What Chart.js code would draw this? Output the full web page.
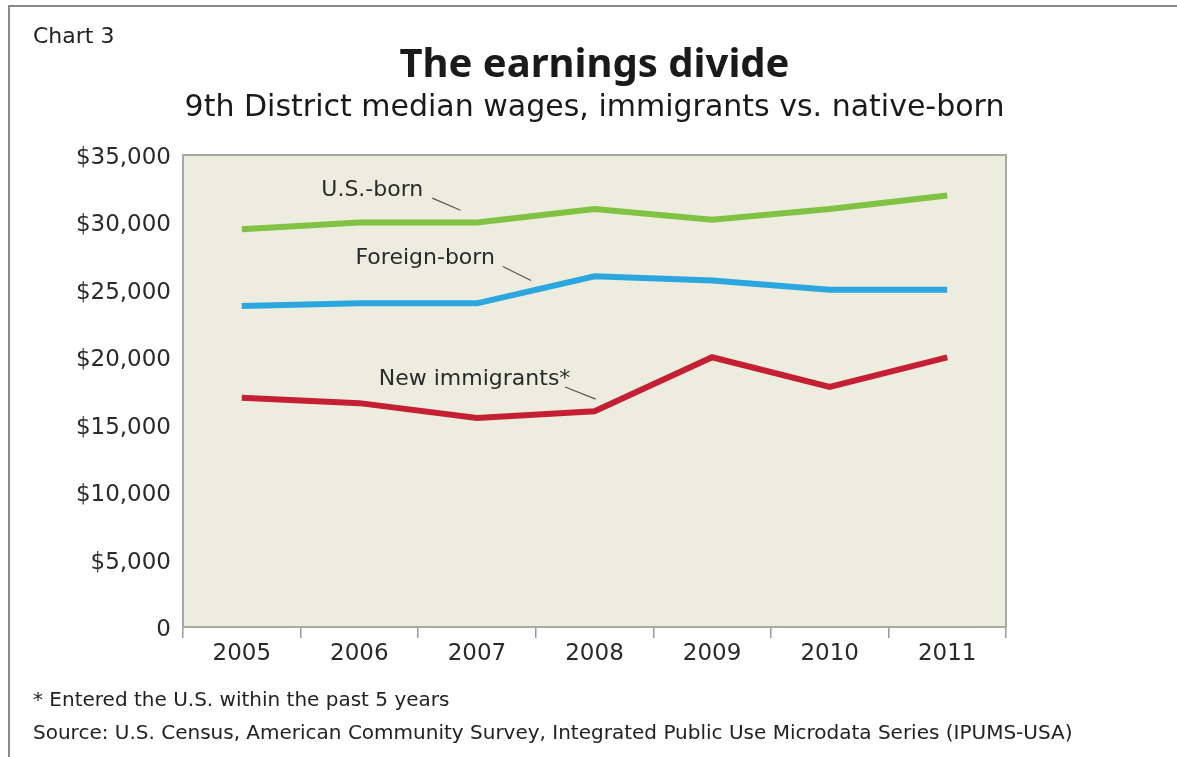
<!DOCTYPE html>
<html>
<head>
<meta charset="utf-8">
<script src="https://cdn.jsdelivr.net/npm/chart.js@4"></script>
<style>
  html, body { margin: 0; padding: 0; background: #fff; overflow: hidden; }
  #wrap { position: relative; width: 1177px; height: 757px; overflow: hidden; font-family: 'DejaVu Sans', sans-serif; color: #222; }
  #frame { position: absolute; left: 8px; top: 5px; width: 1300px; height: 900px; border-top: 2px solid #8a8a8a; border-left: 2px solid #8a8a8a; }
  #label { position: absolute; left: 33px; top: 23px; font-size: 22px; }
  .note { position: absolute; left: 33px; font-size: 20px; white-space: nowrap; }
  canvas { position: absolute; left: 0; top: 0; }
</style>
</head>
<body>
<div id="wrap">
  <div id="frame"></div>
  <canvas id="chart" width="1177" height="757"></canvas>
  <div id="label">Chart 3</div>
  <div class="note" style="top:687px">* Entered the U.S. within the past 5 years</div>
  <div class="note" style="top:720px">Source: U.S. Census, American Community Survey, Integrated Public Use Microdata Series (IPUMS-USA)</div>
</div>
<script>
const years = ['2005', '2006', '2007', '2008', '2009', '2010', '2011'];
const usBorn = [29500, 30000, 30000, 31000, 30200, 31000, 32000];
const foreignBorn = [23800, 24000, 24000, 26000, 25700, 25000, 25000];
const newImmigrants = [17000, 16600, 15500, 16000, 20000, 17800, 20000];

// series labels with leader lines, placed in data units (category index, value)
const seriesLabels = [
    { text: 'U.S.-born', at: [1.11, 32400], line: [[1.62, 31800], [1.86, 30900]] },
    { text: 'Foreign-born', at: [1.56, 27330], line: [[2.22, 26735], [2.46, 25690]] },
    { text: 'New immigrants*', at: [1.98, 18400], line: [[2.75, 17800], [3.01, 16900]] },
];

const plotBackground = {
    id: 'plotBackground',
    beforeDraw: (chart) => {
        const { ctx, chartArea: a } = chart;
        ctx.save();
        ctx.fillStyle = '#ecedde';
        ctx.fillRect(a.left, a.top, a.right - a.left, a.bottom - a.top);
        ctx.strokeStyle = '#a8a9a0';
        ctx.lineWidth = 2;
        ctx.strokeRect(a.left, a.top, a.right - a.left, a.bottom - a.top);
        ctx.restore();
    }
};

const lineLabels = {
    id: 'lineLabels',
    afterDatasetsDraw: (chart) => {
        const { ctx, scales: { x, y } } = chart;
        ctx.save();
        ctx.font = "22px 'DejaVu Sans', sans-serif";
        ctx.fillStyle = '#2a2a2a';
        ctx.textAlign = 'center';
        ctx.textBaseline = 'middle';
        ctx.strokeStyle = '#555';
        ctx.lineWidth = 1.2;
        seriesLabels.forEach((l) => {
            ctx.fillText(l.text, x.getPixelForValue(l.at[0]), y.getPixelForValue(l.at[1]));
            ctx.beginPath();
            ctx.moveTo(x.getPixelForValue(l.line[0][0]), y.getPixelForValue(l.line[0][1]));
            ctx.lineTo(x.getPixelForValue(l.line[1][0]), y.getPixelForValue(l.line[1][1]));
            ctx.stroke();
        });
        ctx.restore();
    }
};

const ctx = document.getElementById('chart').getContext('2d');

const chart = new Chart(ctx, {
    type: 'line',
    data: {
        labels: years,
        datasets: [
            { label: 'U.S.-born', data: usBorn, borderColor: '#80c241' },
            { label: 'Foreign-born', data: foreignBorn, borderColor: '#2ba6de' },
            { label: 'New immigrants*', data: newImmigrants, borderColor: '#c41f33' },
        ]
    },
    options: {
        responsive: false,
        animation: false,
        elements: {
            line: { borderWidth: 6, tension: 0, borderJoinStyle: 'miter' },
            point: { radius: 0, hoverRadius: 0 }
        },
        layout: {
            padding: { left: 0, right: 171, top: 0, bottom: 0 }
        },
        plugins: {
            legend: { display: false },
            tooltip: { enabled: false },
            title: {
                display: true,
                fullSize: false, // centre over the plot area
                text: 'The earnings divide',
                color: '#1a1a1a',
                font: { family: "'Noto Sans', sans-serif", size: 40, weight: 'bold', lineHeight: 1.2 },
                padding: { top: 42, bottom: 0 }
            },
            subtitle: {
                display: true,
                fullSize: false,
                text: '9th District median wages, immigrants vs. native-born',
                color: '#1a1a1a',
                font: { family: "'DejaVu Sans', sans-serif", size: 30, lineHeight: 1.2 },
                padding: { top: 0, bottom: 29 }
            }
        },
        scales: {
            x: {
                offset: true,
                grid: {
                    offset: true,
                    drawOnChartArea: false,
                    drawTicks: true,
                    tickLength: 11,
                    color: '#999',
                    lineWidth: 1.5
                },
                border: { display: true, color: '#a8a9a0', width: 2 },
                ticks: {
                    color: '#2a2a2a',
                    padding: 2,
                    font: { family: "'DejaVu Sans', sans-serif", size: 23 }
                },
                afterFit: (scale) => { scale.height = 130; }
            },
            y: {
                min: 0,
                max: 35000,
                grid: { display: false, drawTicks: false },
                border: { display: true, color: '#a8a9a0', width: 2 },
                ticks: {
                    stepSize: 5000,
                    color: '#2a2a2a',
                    padding: 12,
                    labelOffset: 3,
                    font: { family: "'DejaVu Sans', sans-serif", size: 23 },
                    callback: (v) => v === 0 ? '0' : '$' + v.toLocaleString('en-US')
                },
                afterFit: (scale) => { scale.width = 183; }
            }
        }
    },
    plugins: [plotBackground, lineLabels]
});
</script>
</body>
</html>
